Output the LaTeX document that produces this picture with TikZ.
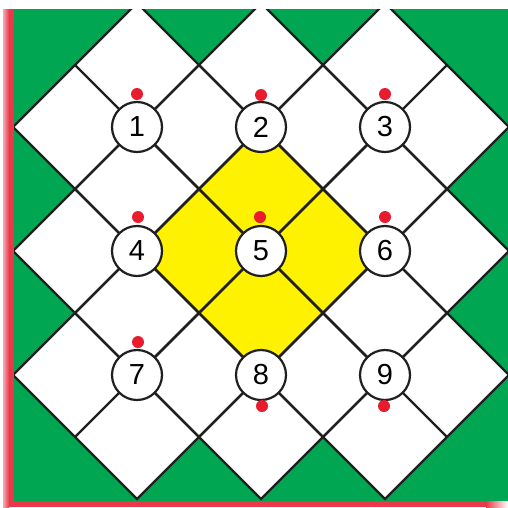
\documentclass[tikz,border=0pt]{standalone}
\usepackage{fontspec}
\setmainfont{Liberation Sans}
\definecolor{bggreen}{RGB}{0,166,81}
\definecolor{cyellow}{RGB}{255,242,0}
\definecolor{dotred}{RGB}{232,28,44}
\definecolor{edgered}{RGB}{234,58,74}
\definecolor{edgepink}{RGB}{244,170,178}
\begin{document}
\begin{tikzpicture}[x=1pt,y=-1pt,
  lat/.style={line width=2.2pt, draw=black!88, line join=miter},
  numc/.style={circle, draw=black!88, line width=2.2pt, fill=white, minimum size=50pt, inner sep=0pt, font=\fontsize{29}{29}\selectfont},
  rdot/.style={circle, fill=dotred, inner sep=0pt, minimum size=12pt}]
\useasboundingbox (0,0) rectangle (508,507);
\fill[white] (0,0) rectangle (508,507);
% green field
\fill[bggreen] (14,9) rectangle (508,501);
% red border (left and bottom)
\shade[left color=edgepink, right color=edgered] (3,9) rectangle (9,507);
\fill[edgered] (9,9) rectangle (14,507);
\fill[edgered] (9,501) rectangle (486,507);
\shade[left color=edgered, right color=white] (486,501) rectangle (508,507);
\begin{scope}
  \clip (14,9) rectangle (508,501);
  % white diamonds
  \foreach \cx in {137,261,385}{
    \foreach \cy in {127,251,375}{
      \fill[white] (\cx-124,\cy) -- (\cx,\cy-124) -- (\cx+124,\cy) -- (\cx,\cy+124) -- cycle;
    }
  }
  % yellow centre diamond
  \fill[cyellow] (261,127) -- (385,251) -- (261,375) -- (137,251) -- cycle;
  % lattice lines
  \foreach \cx in {137,261,385}{
    \foreach \cy in {127,251,375}{
      \draw[lat] (\cx-124,\cy) -- (\cx,\cy-124) -- (\cx+124,\cy) -- (\cx,\cy+124) -- cycle;
      \draw[lat] (\cx-62,\cy-62) -- (\cx+62,\cy+62);
      \draw[lat] (\cx+62,\cy-62) -- (\cx-62,\cy+62);
    }
  }
\end{scope}
% numbered circles
\node[numc] (c1) at (137,127) {1};
\node[numc] (c2) at (261,127) {2};
\node[numc] (c3) at (385,127) {3};
\node[numc] (c4) at (137,251) {4};
\node[numc] (c5) at (261,251) {5};
\node[numc] (c6) at (385,251) {6};
\node[numc] (c7) at (137,375) {7};
\node[numc] (c8) at (261,375) {8};
\node[numc] (c9) at (385,375) {9};
% red dots
\node[rdot] (d1) at (137,94) {};
\node[rdot] (d2) at (261,95) {};
\node[rdot] (d3) at (385,94) {};
\node[rdot] (d4) at (138,217) {};
\node[rdot] (d5) at (260,217) {};
\node[rdot] (d6) at (385,217) {};
\node[rdot] (d7) at (138,342) {};
\node[rdot] (d8) at (262,406) {};
\node[rdot] (d9) at (384,406) {};
\end{tikzpicture}
\end{document}
